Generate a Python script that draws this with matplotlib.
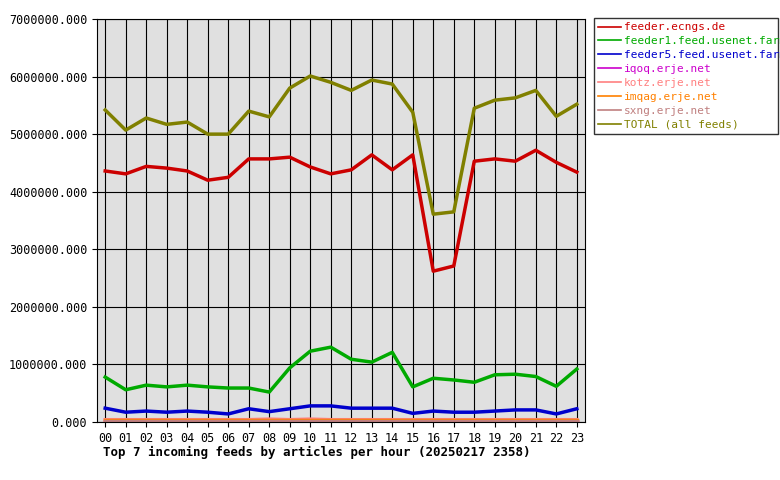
import matplotlib
matplotlib.use("Agg")
import matplotlib.pyplot as plt

hours = ["%02d" % h for h in range(24)]
ecngs = [4.36,4.31,4.44,4.41,4.36,4.20,4.25,4.57,4.57,4.60,4.43,4.31,4.38,4.64,4.38,4.64,2.62,2.71,4.53,4.57,4.53,4.72,4.51,4.34]
feeder1 = [0.78,0.56,0.64,0.61,0.64,0.61,0.59,0.59,0.52,0.94,1.23,1.30,1.09,1.04,1.21,0.61,0.76,0.73,0.69,0.82,0.83,0.79,0.62,0.92]
feeder5 = [0.24,0.17,0.19,0.17,0.19,0.17,0.14,0.23,0.18,0.23,0.28,0.28,0.24,0.24,0.24,0.15,0.19,0.17,0.17,0.19,0.21,0.21,0.14,0.23]
iqoq = [0.01]*24
kotz = [0.04,0.04,0.04,0.04,0.04,0.04,0.04,0.04,0.05,0.04,0.05,0.04,0.04,0.04,0.04,0.04,0.04,0.04,0.04,0.04,0.04,0.04,0.04,0.04]
imqag = [0.03]*24
sxng = [0.01]*24
total = [5.42,5.07,5.28,5.17,5.21,5.00,5.00,5.40,5.30,5.80,6.01,5.90,5.76,5.94,5.87,5.38,3.61,3.65,5.45,5.59,5.63,5.76,5.31,5.52]

series = [
    ("feeder.ecngs.de", ecngs, "#cc0000"),
    ("feeder1.feed.usenet.farm", feeder1, "#00aa00"),
    ("feeder5.feed.usenet.farm", feeder5, "#0000cc"),
    ("iqoq.erje.net", iqoq, "#cc00cc"),
    ("kotz.erje.net", kotz, "#ff8080"),
    ("imqag.erje.net", imqag, "#ff8000"),
    ("sxng.erje.net", sxng, "#c08080"),
    ("TOTAL (all feeds)", total, "#808000"),
]

plt.rcParams['font.family'] = ['DejaVu Sans Mono']
fig = plt.figure(figsize=(7.8, 4.8), dpi=100)
ax = fig.add_axes([97/780, 1-422/480, (585-97)/780, (422-19)/480])
ax.set_facecolor("#e0e0e0")
x = list(range(24))
for name, vals, c in series:
    ax.plot(x, [v*1e6 for v in vals], color=c, lw=2.5, label=name)
ax.set_xlim(-0.4, 23.4)
ax.set_ylim(0, 7e6)
ax.set_xticks(x)
ax.set_xticklabels(hours, fontsize=8.5)
yt = [i*1e6 for i in range(8)]
ax.set_yticks(yt)
ax.set_yticklabels(["%d.000" % v for v in yt], fontsize=8.5)
ax.grid(True, color="black", lw=0.8)
ax.set_axisbelow(True)
for s in ax.spines.values():
    s.set_color("black")
fig.text(103/780, 1-452/480, "Top 7 incoming feeds by articles per hour (20250217 2358)",
         fontsize=9, fontweight="bold", ha="left", va="center")
leg = ax.legend(loc="upper left", bbox_to_anchor=(594/780, 1-148/480, 184/780, 130/480),
                bbox_transform=fig.transFigure, mode="expand", fontsize=8,
                frameon=True, fancybox=False, edgecolor="black", handlelength=2,
                handletextpad=0.3, borderaxespad=0, labelspacing=0.35)
leg.get_frame().set_linewidth(1.0)
for t, (_, _, c) in zip(leg.get_texts(), series):
    t.set_color(c)
for l in leg.get_lines():
    l.set_linewidth(1.2)
fig.savefig("out.png", dpi=100, facecolor="white")
